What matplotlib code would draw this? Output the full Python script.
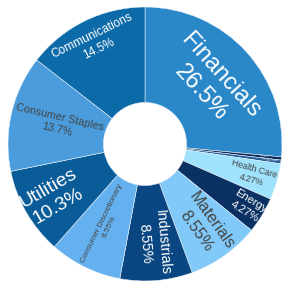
import numpy as np
import matplotlib
matplotlib.use("Agg")
import matplotlib.pyplot as plt

plt.rcParams['font.family'] = ['Liberation Sans', 'DejaVu Sans']

# sector weights, clockwise from 12 o'clock
sectors = ["Financials", "Real Estate", "Information Technology", "Health Care",
           "Energy", "Materials", "Industrials", "Consumer Discretionary",
           "Utilities", "Consumer Staples", "Communications"]
weights = [26.5, 0.38, 0.43, 4.27, 4.27, 8.55, 8.55, 8.55, 10.3, 13.7, 14.5]
pct_labels = ["26.5%", "0.38%", "0.43%", "4.27%", "4.27%", "8.55%", "8.55%",
              "8.55%", "10.3%", "13.7%", "14.5%"]

colors = ["#2a87c8", "#0a2a5c", "#2a5e94", "#9fe2fc", "#0b3162", "#80c9f8",
          "#0a4681", "#65b1f0", "#0a5c98", "#4a9cdc", "#0c6aa8"]
txt_colors = ["white", "white", "white", "#444444", "white", "#444444",
              "white", "#444444", "white", "#444444", "white"]
# label style: (orientation, radius px, font size pt)
lab_style = [("tan", 89, 17), ("rad", 120, 1.2), ("rad", 125, 1.2),
             ("rad", 112, 6.3), ("rad", 120, 8), ("rad", 101, 11.7),
             ("rad", 99, 10.3), ("rad", 90, 5.9), ("rad", 106, 14),
             ("rad", 89, 7.8), ("tan", 113, 8.6)]

R_OUT, R_IN = 137, 41.5

fig = plt.figure(figsize=(2.82, 2.81), dpi=100)
ax = fig.add_axes([0, 0, 1, 1])
ax.pie(weights, colors=colors, startangle=90, counterclock=False,
       radius=R_OUT, wedgeprops=dict(width=R_OUT - R_IN, edgecolor="#e8f2fa",
                                     linewidth=0.4))

total = sum(weights)
cum = 0.0
for name, w, pl, tc, (orient, r, fs) in zip(sectors, weights, pct_labels,
                                           txt_colors, lab_style):
    theta = 90 - 360 * (cum + w / 2) / total
    cum += w
    t = np.deg2rad(theta)
    x, y = r * np.cos(t), r * np.sin(t)
    rot = theta - 90 if orient == "tan" else theta
    rot = (rot + 180) % 360 - 180
    if rot > 90:
        rot -= 180
    elif rot < -90:
        rot += 180
    ax.text(x, y, name + "\n" + pl, ha="center", va="center", color=tc,
            fontsize=fs, rotation=rot, rotation_mode="anchor",
            linespacing=1.3, multialignment="center")

ax.set_xlim(-145, 137)
ax.set_ylim(-137, 144)
ax.set_aspect("equal")
ax.axis("off")
fig.savefig("out.png", dpi=100)
